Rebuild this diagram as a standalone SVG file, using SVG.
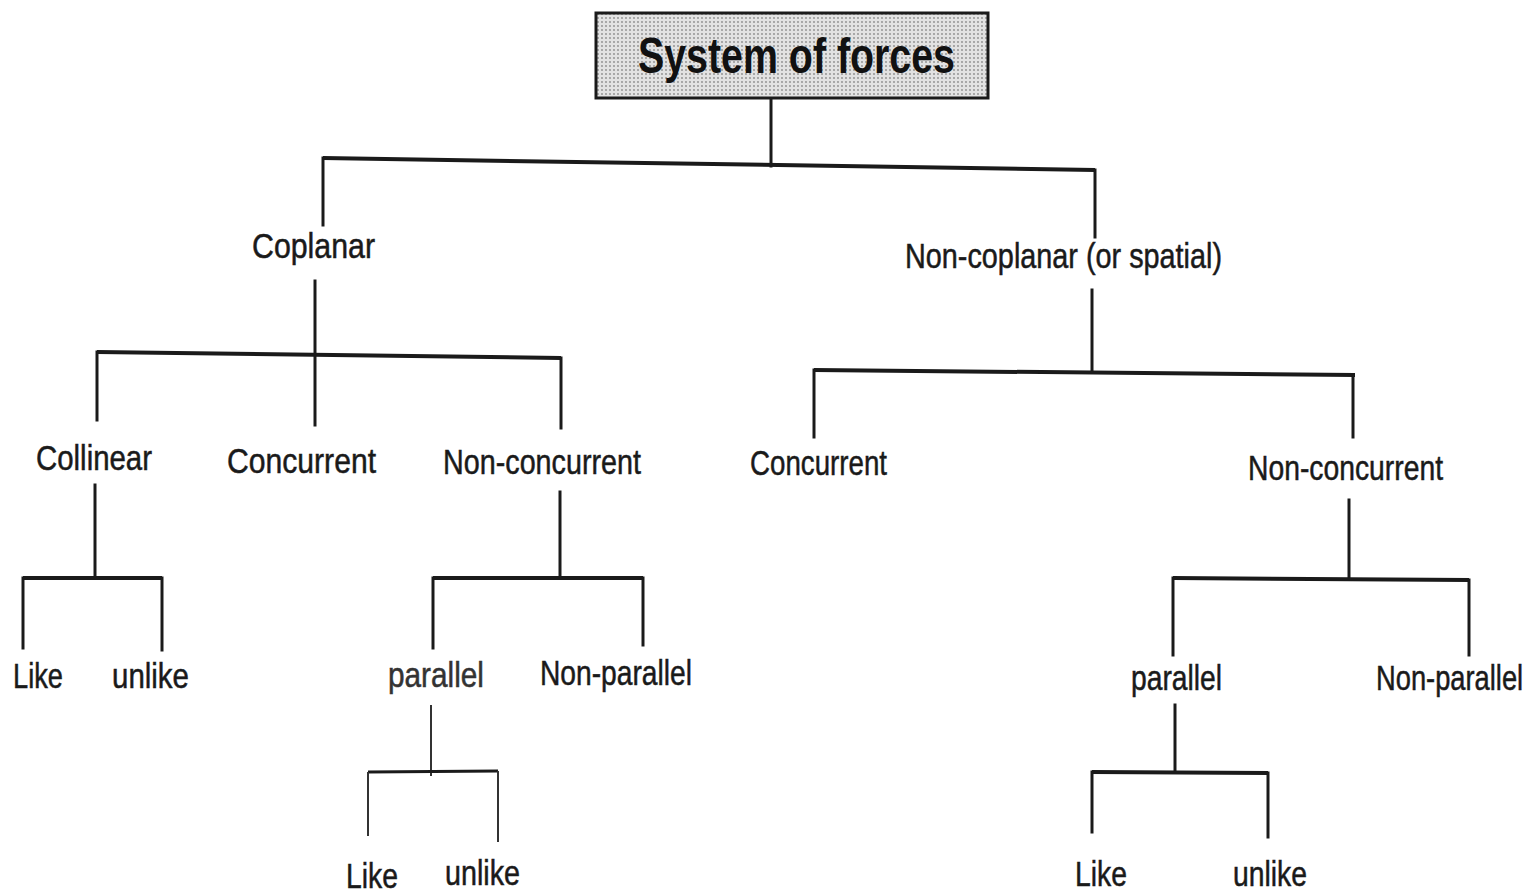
<svg xmlns="http://www.w3.org/2000/svg" width="1537" height="893" viewBox="0 0 1537 893">
<style>
.lbl{font-family:"Liberation Sans",Arial,sans-serif;font-size:35px;fill:#1a1a1a;stroke:#1a1a1a;stroke-width:0.5;}
.ttl{font-family:"Liberation Sans",Arial,sans-serif;font-size:50px;font-weight:bold;fill:#111;}
.ln{stroke:#1a1a1a;stroke-width:3;fill:none;stroke-linecap:square;}
.bar{stroke:#1a1a1a;stroke-width:4;fill:none;}
.thin{stroke:#333;stroke-width:2;fill:none;}
</style>
<defs>
<pattern id="dots" width="4" height="4" patternUnits="userSpaceOnUse">
<rect width="4" height="4" fill="#e2e2e2"/>
<circle cx="2" cy="2" r="0.9" fill="#8c8c8c"/>
</pattern>
</defs>
<rect width="1537" height="893" fill="#ffffff"/>
<g id="connectors">
<line class="ln" x1="771" y1="98" x2="771" y2="166"/>
<line class="bar" x1="323" y1="158" x2="1095" y2="170"/>
<line class="ln" x1="323" y1="158" x2="323" y2="225"/>
<line class="ln" x1="1095" y1="170" x2="1095" y2="237"/>
<line class="ln" x1="315" y1="281" x2="315" y2="425"/>
<line class="bar" x1="97" y1="352" x2="561" y2="358"/>
<line class="ln" x1="97" y1="352" x2="97" y2="420"/>
<line class="ln" x1="561" y1="358" x2="561" y2="428"/>
<line class="ln" x1="95" y1="485" x2="95" y2="578"/>
<line class="bar" x1="23" y1="578" x2="162" y2="578"/>
<line class="ln" x1="23" y1="578" x2="23" y2="648"/>
<line class="ln" x1="162" y1="578" x2="162" y2="650"/>
<line class="ln" x1="560" y1="492" x2="560" y2="578"/>
<line class="bar" x1="433" y1="578" x2="643" y2="578"/>
<line class="ln" x1="433" y1="578" x2="433" y2="648"/>
<line class="ln" x1="643" y1="578" x2="643" y2="645"/>
<line class="thin" x1="431" y1="705" x2="431" y2="776"/>
<line class="bar" x1="368" y1="772" x2="498" y2="771" style="stroke-width:3"/>
<line class="thin" x1="368" y1="772" x2="368" y2="836"/>
<line class="thin" x1="498" y1="771" x2="498" y2="842"/>
<line class="ln" x1="1092" y1="290" x2="1092" y2="370"/>
<line class="bar" x1="814" y1="370" x2="1355" y2="375"/>
<line class="ln" x1="814" y1="370" x2="814" y2="437"/>
<line class="ln" x1="1353" y1="375" x2="1353" y2="437"/>
<line class="ln" x1="1349" y1="500" x2="1349" y2="578"/>
<line class="bar" x1="1173" y1="578" x2="1469" y2="580"/>
<line class="ln" x1="1173" y1="578" x2="1173" y2="655"/>
<line class="ln" x1="1469" y1="580" x2="1469" y2="655"/>
<line class="ln" x1="1175" y1="705" x2="1175" y2="772"/>
<line class="bar" x1="1092" y1="772" x2="1268" y2="773"/>
<line class="ln" x1="1092" y1="772" x2="1092" y2="832"/>
<line class="ln" x1="1268" y1="773" x2="1268" y2="837"/>
</g>
<g id="n-root">
<rect x="596" y="13" width="392" height="85" fill="url(#dots)" stroke="#1a1a1a" stroke-width="3"/>
<text class="ttl" x="638" y="73" textLength="317" lengthAdjust="spacingAndGlyphs">System of forces</text>
</g>
<g id="n-coplanar"><text class="lbl" x="252" y="258" textLength="123" lengthAdjust="spacingAndGlyphs">Coplanar</text></g>
<g id="n-noncoplanar"><text class="lbl" x="905" y="268" textLength="317" lengthAdjust="spacingAndGlyphs">Non-coplanar (or spatial)</text></g>
<g id="n-collinear"><text class="lbl" x="36" y="470" textLength="116" lengthAdjust="spacingAndGlyphs">Collinear</text></g>
<g id="n-concurrent1"><text class="lbl" x="227" y="473" textLength="149" lengthAdjust="spacingAndGlyphs">Concurrent</text></g>
<g id="n-nonconcurrent1"><text class="lbl" x="443" y="474" textLength="198" lengthAdjust="spacingAndGlyphs">Non-concurrent</text></g>
<g id="n-concurrent2"><text class="lbl" x="750" y="475" textLength="137" lengthAdjust="spacingAndGlyphs">Concurrent</text></g>
<g id="n-nonconcurrent2"><text class="lbl" x="1248" y="480" textLength="195" lengthAdjust="spacingAndGlyphs">Non-concurrent</text></g>
<g id="n-like1"><text class="lbl" x="13" y="688" textLength="50" lengthAdjust="spacingAndGlyphs">Like</text></g>
<g id="n-unlike1"><text class="lbl" x="112" y="688" textLength="77" lengthAdjust="spacingAndGlyphs">unlike</text></g>
<g id="n-parallel1"><text class="lbl" x="388" y="687" textLength="96" lengthAdjust="spacingAndGlyphs" style="fill:#333;stroke:#333">parallel</text></g>
<g id="n-nonparallel1"><text class="lbl" x="540" y="685" textLength="152" lengthAdjust="spacingAndGlyphs">Non-parallel</text></g>
<g id="n-like2"><text class="lbl" x="346" y="888" textLength="52" lengthAdjust="spacingAndGlyphs">Like</text></g>
<g id="n-unlike2"><text class="lbl" x="445" y="885" textLength="75" lengthAdjust="spacingAndGlyphs">unlike</text></g>
<g id="n-parallel2"><text class="lbl" x="1131" y="690" textLength="91" lengthAdjust="spacingAndGlyphs">parallel</text></g>
<g id="n-nonparallel2"><text class="lbl" transform="translate(1376,690) scale(0.78,1)" x="0" y="0">Non-parallel</text></g>
<g id="n-like3"><text class="lbl" x="1075" y="886" textLength="52" lengthAdjust="spacingAndGlyphs">Like</text></g>
<g id="n-unlike3"><text class="lbl" x="1233" y="886" textLength="74" lengthAdjust="spacingAndGlyphs">unlike</text></g>
</svg>
